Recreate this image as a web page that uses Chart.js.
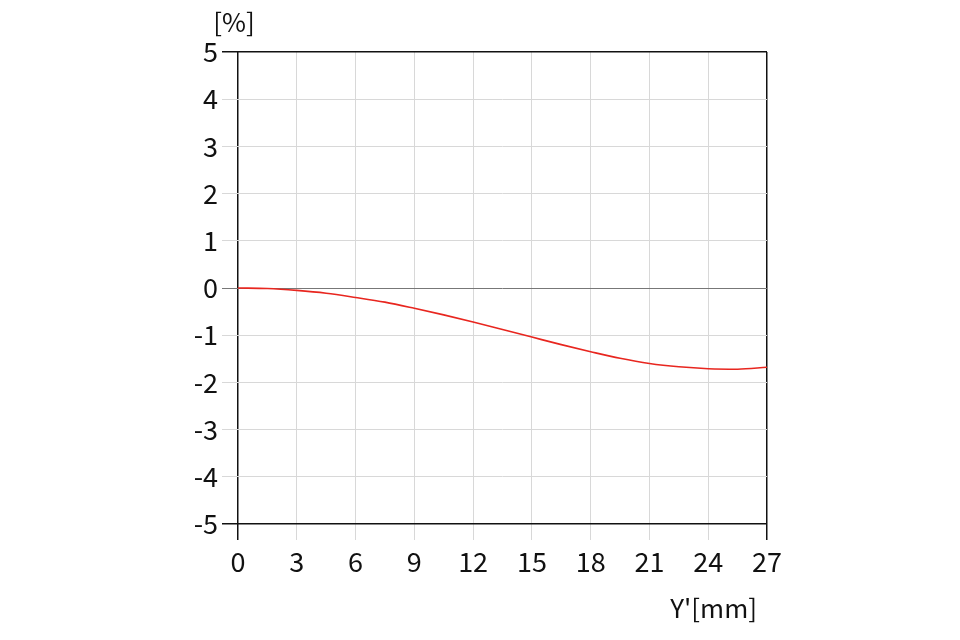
<!DOCTYPE html>
<html>
<head>
<meta charset="utf-8">
<script src="https://cdn.jsdelivr.net/npm/chart.js@4/dist/chart.umd.min.js"></script>
<style>
  html, body { margin: 0; padding: 0; background: #fff; }
  #wrap { width: 960px; height: 640px; position: relative; }
</style>
</head>
<body>
<div id="wrap"><canvas id="grafico"></canvas></div>
<script>
// Dados
const posicoes = [0, 1.5, 3, 4.5, 6, 7.5, 9, 10.5, 12, 13.5, 15, 16.5, 18, 19.5, 21, 22.5, 24, 25.5, 27];
const distorcao = [0, -0.01, -0.05, -0.11, -0.2, -0.3, -0.43, -0.57, -0.72, -0.88, -1.04, -1.2, -1.35, -1.49, -1.6, -1.67, -1.71, -1.72, -1.68];
const ticksX = [0, 3, 6, 9, 12, 15, 18, 21, 24, 27];
const ticksY = [-5, -4, -3, -2, -1, 0, 1, 2, 3, 4, 5];
const tituloY = '[%]';
const tituloX = "Y'[mm]";

const fonte = "'Noto Sans CJK KR', 'Noto Sans', sans-serif";

// Títulos dos eixos
const titulos = {
  id: 'titulos',
  afterDraw(chart) {
    const { ctx, chartArea } = chart;
    ctx.save();
    ctx.fillStyle = '#111';
    ctx.font = '26px ' + fonte;
    ctx.textBaseline = 'alphabetic';
    ctx.textAlign = 'center';
    ctx.fillText(tituloY, chartArea.left - 4, 32);
    ctx.textAlign = 'right';
    ctx.fillText(tituloX, chartArea.right - 10, 618);
    ctx.restore();
  }
};

function corGrade(valor, min, max, cinzaZero) {
  if (valor === min || valor === max) return '#111';
  if (cinzaZero && valor === 0) return '#777';
  return '#d8d8d8';
}

new Chart(document.getElementById('grafico').getContext('2d'), {
  type: 'line',
  data: {
    datasets: [{
      data: posicoes.map((x, i) => ({ x: x, y: distorcao[i] })),
      borderColor: '#e8261f',
      borderWidth: 1.6,
      pointRadius: 0,
      cubicInterpolationMode: 'monotone',
      fill: false
    }]
  },
  options: {
    responsive: true,
    maintainAspectRatio: false,
    animation: false,
    layout: { padding: { top: 52, right: 193, left: 0, bottom: 0 } },
    plugins: { legend: { display: false }, tooltip: { enabled: false } },
    scales: {
      x: {
        type: 'linear',
        min: 0,
        max: 27,
        afterBuildTicks: s => { s.ticks = ticksX.map(v => ({ value: v })); },
        afterFit: s => { s.height = 116; },
        border: { display: false },
        grid: {
          color: c => corGrade(c.tick.value, 0, 27, false),
          tickColor: c => corGrade(c.tick.value, 0, 27, false),
          tickLength: 16,
          lineWidth: c => (c.tick.value === 0 || c.tick.value === 27) ? 1.5 : 1
        },
        ticks: {
          color: '#111',
          padding: 6,
          maxRotation: 0,
          font: { family: fonte, size: 27 }
        }
      },
      y: {
        min: -5,
        max: 5,
        afterBuildTicks: s => { s.ticks = ticksY.map(v => ({ value: v })); },
        afterFit: s => { s.width = 238; },
        border: { display: false },
        grid: {
          color: c => corGrade(c.tick.value, -5, 5, true),
          tickColor: c => corGrade(c.tick.value, -5, 5, true),
          tickLength: 16,
          lineWidth: c => (c.tick.value === -5 || c.tick.value === 5) ? 1.5 : 1
        },
        ticks: {
          color: '#111',
          padding: 4,
          font: { family: fonte, size: 27 },
          callback: v => String(v)
        }
      }
    }
  },
  plugins: [titulos]
});
</script>
</body>
</html>
